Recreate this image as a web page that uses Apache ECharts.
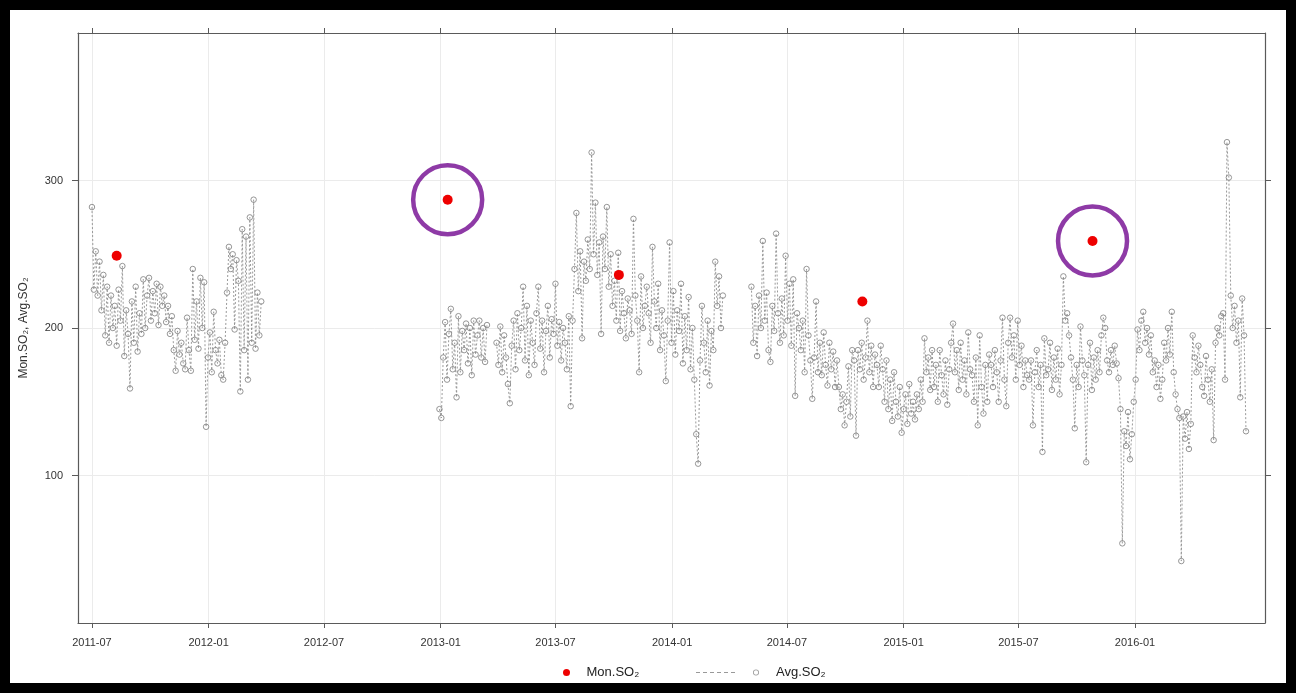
<!DOCTYPE html>
<html><head><meta charset="utf-8">
<script src="https://cdn.jsdelivr.net/npm/echarts@6/dist/echarts.min.js"></script>
<style>html,body{margin:0;padding:0;background:#fff}#c{width:1297px;height:693px}</style>
</head><body><div id="c"></div>
<script>
// ---------------- data ----------------
const xTickLabels = ['2011-07','2012-01','2012-07','2013-01','2013-07','2014-01','2014-07','2015-01','2015-07','2016-01'];
const yTickValues = [100, 200, 300];
const stepDays = 3;

const avgStart1 = '2011-07-01';
const avgValues1 = [
  282,226,252,222,245,212,236,195,228,190,
  222,200,215,188,226,205,242,181,212,196,
  159,218,190,228,184,210,196,233,200,222,
  234,205,225,210,230,202,228,215,222,204,
  215,196,208,185,171,198,182,190,176,172,
  207,185,171,240,192,218,186,234,200,231,
  133,180,197,170,211,185,176,192,168,165,
  190,224,255,240,250,199,246,232,157,267,
  185,262,165,275,190,287,186,224,195,218
];

const avgStart2 = '2012-12-30';
const avgValues2 = [
  145,139,180,204,165,196,213,172,190,153,
  208,170,198,185,203,176,200,168,205,182,
  195,205,180,200,177,202,null,null,null,null,
  190,175,201,170,195,180,162,149,188,205,
  172,210,185,200,228,178,215,168,205,190,
  175,210,228,186,205,170,198,215,180,206,
  196,230,188,204,178,200,190,172,208,147,
  205,240,278,225,252,193,245,232,260,240,
  319,250,285,236,258,196,262,240,282,228,
  250,215,232,205,251,198,225,210,193,220,
  212,196,274,222,205,170,235,200,215,228,
  210,190,255,218,200,230,185,212,195,164,
  205,258,190,225,182,212,198,230,176,208,
  185,221,172,200,165,128,108,178,215,190,
  170,205,161,198,185,245,215,235,200,222,
  null,null,null,null,null,null,null,null,null,null,
  null,null,null,null,228,190,215,181,222,200,
  259,205,224,185,177,215,198,264,210,190,
  220,195,249,205,230,188,233,154,210,200,
  185,205,170,240,195,178,152,180,218,170,
  190,168,197,175,161,190,172,184,160,178,
  160,145,155,134,150,174,140,185,178,127,
  185,172,190,165,180,205,170,188,160,182,
  175,160,188,172,150,178,145,165,137,170,
  150,140,160,129,145,155,135,162,142,150,
  138,155,145,165,150,193,170,180,158,185,
  160,175,150,185,168,155,178,148,172,190,
  203,170,185,158,190,165,178,155,197,172,
  168,150,180,134,195,160,142,175,150,182,
  175,160,185,170,150,178,207,165,147,190,
  207,180,195,165,205,175,188,160,178,168,
  165,178,134,170,185,160,175,116,193,168,
  172,190,158,180,165,186,155,175,235,205,
  210,195,180,165,132,175,160,201,178,168,
  109,175,190,158,180,165,185,170,195,207,
  200,178,170,185,175,188,176,166,145,54,
  130,120,143,111,128,150,165,199,185,205,
  211,190,200,182,195,170,178,160,175,152,
  165,190,178,200,182,211,170,155,145,139,
  42,140,125,143,118,135,195,180,170,188,
  175,160,154,181,165,150,172,124,190,200,
  195,208,210,165,326,302,222,200,215,190,
  205,153,220,195,130
];

const monDates = ['2011-08-09','2013-01-12','2013-10-09','2014-10-28','2015-10-26'];
const monValues = [249, 287, 236, 218, 259];
const circledIdx = [1, 4];

// ---------------- helpers ----------------
const DAY = 86400000;
function utc(s){ const p = s.split('-').map(Number); return Date.UTC(p[0], p[1]-1, p[2] || 1); }
function buildSeg(start, vals){ const t0 = utc(start); return vals.map((v,i)=>[t0 + i*stepDays*DAY, v]); }
const tickTs = xTickLabels.map(l => utc(l + '-01'));
const FONT = "'Liberation Sans', Arial, sans-serif";
const AX = '#5a5a5a';
const xMin = utc('2011-06-09'), xMax = utc('2016-07-24');
const MON = 'Mon.SO\u2082', AVG = 'Avg.SO\u2082';
function xLabel(v){ const i = tickTs.indexOf(v); return i >= 0 ? xTickLabels[i] : ''; }

const avgStyle = {
  type: 'line', name: AVG, symbol: 'circle', symbolSize: 5.5, z: 2,
  itemStyle: { color: 'rgba(0,0,0,0)', borderColor: '#8a8a8a', borderWidth: 0.9, opacity: 1 },
  lineStyle: { color: '#8f8f8f', width: 0.9, type: [2,2] },
  emphasis: { disabled: true }, silent: true, connectNulls: false
};

const avgIcon = 'path://M0,2.5h4v1h-4z M7,2.5h4v1h-4z M14,2.5h4v1h-4z M21,2.5h4v1h-4z M28,2.5h4v1h-4z M35,2.5h4v1h-4z ' +
  'M57,3a3,3 0 1,0 6,0a3,3 0 1,0 -6,0z M57.8,3a2.2,2.2 0 1,1 4.4,0a2.2,2.2 0 1,1 -4.4,0z M74.9,0h0.1v0.01h-0.1z M74.9,5.99h0.1v0.01h-0.1z';

const chart = echarts.init(document.getElementById('c'), null, { renderer: 'canvas' });
chart.setOption({
  animation: false,
  backgroundColor: '#fff',
  grid: { left: 78, right: 32, top: 33, bottom: 70 },
  xAxis: [{
    type: 'value', position: 'bottom', min: xMin, max: xMax, scale: true,
    axisLine: { show: true, onZero: false, lineStyle: { color: AX, width: 1.2 } },
    axisTick: { show: true, customValues: tickTs, length: 5, lineStyle: { color: AX } },
    axisLabel: { customValues: tickTs, margin: 14, fontSize: 11, color: '#333', fontFamily: FONT, formatter: xLabel },
    splitLine: { show: true, lineStyle: { color: '#ebebeb', width: 1 } }
  }, {
    type: 'value', position: 'top', min: xMin, max: xMax, scale: true,
    axisLine: { show: true, onZero: false, lineStyle: { color: AX, width: 1.2 } },
    axisTick: { show: true, customValues: tickTs, length: 5, lineStyle: { color: AX } },
    axisLabel: { show: false }, splitLine: { show: false }
  }],
  yAxis: [{
    type: 'value', min: 0, max: 400, interval: 100, position: 'left',
    name: MON + ', ' + AVG, nameLocation: 'middle', nameGap: 48,
    nameTextStyle: { fontSize: 12, color: '#333', fontFamily: FONT },
    axisLine: { show: true, onZero: false, lineStyle: { color: AX, width: 1.2 } },
    axisTick: { show: true, customValues: yTickValues, length: 6, lineStyle: { color: AX } },
    axisLabel: { customValues: yTickValues, margin: 15, fontSize: 11, color: '#333', fontFamily: FONT },
    splitLine: { show: true, lineStyle: { color: '#ebebeb', width: 1 } }
  }, {
    type: 'value', min: 0, max: 400, interval: 100, position: 'right',
    axisLine: { show: true, onZero: false, lineStyle: { color: AX, width: 1.2 } },
    axisTick: { show: true, customValues: yTickValues, length: 6, lineStyle: { color: AX } },
    axisLabel: { show: false }, splitLine: { show: false }
  }],
  legend: [{
    data: [{ name: MON, icon: 'circle', itemStyle: { color: '#ee0000', opacity: 1 } }],
    left: 558, top: 661, itemWidth: 30, itemHeight: 7, selectedMode: false,
    textStyle: { fontSize: 13, color: '#222', fontFamily: FONT }
  }, {
    data: [{ name: AVG, icon: avgIcon, itemStyle: { color: '#999', borderWidth: 0, opacity: 1 } }],
    left: 691, top: 661, itemWidth: 75, itemHeight: 6, selectedMode: false,
    textStyle: { fontSize: 13, color: '#222', fontFamily: FONT }
  }],
  series: [
    Object.assign({}, avgStyle, { data: buildSeg(avgStart1, avgValues1) }),
    Object.assign({}, avgStyle, { data: buildSeg(avgStart2, avgValues2) }),
    {
      type: 'scatter', name: MON, symbol: 'circle', symbolSize: 10, z: 5,
      itemStyle: { color: '#ee0000', opacity: 1 }, silent: true,
      data: monDates.map((d,i) => [utc(d), monValues[i]])
    },
    {
      type: 'scatter', name: 'circled', symbol: 'circle', symbolSize: 69, z: 6, silent: true,
      itemStyle: { color: 'rgba(0,0,0,0)', borderColor: '#8e3aa6', borderWidth: 4.5, opacity: 1 },
      data: circledIdx.map(i => [utc(monDates[i]), monValues[i]])
    }
  ],
  graphic: [{
    type: 'rect', silent: true, z: 100,
    shape: { x: 5, y: 5, width: 1286, height: 683 },
    style: { fill: 'none', stroke: '#000', lineWidth: 10 }
  }]
});
</script></body></html>
